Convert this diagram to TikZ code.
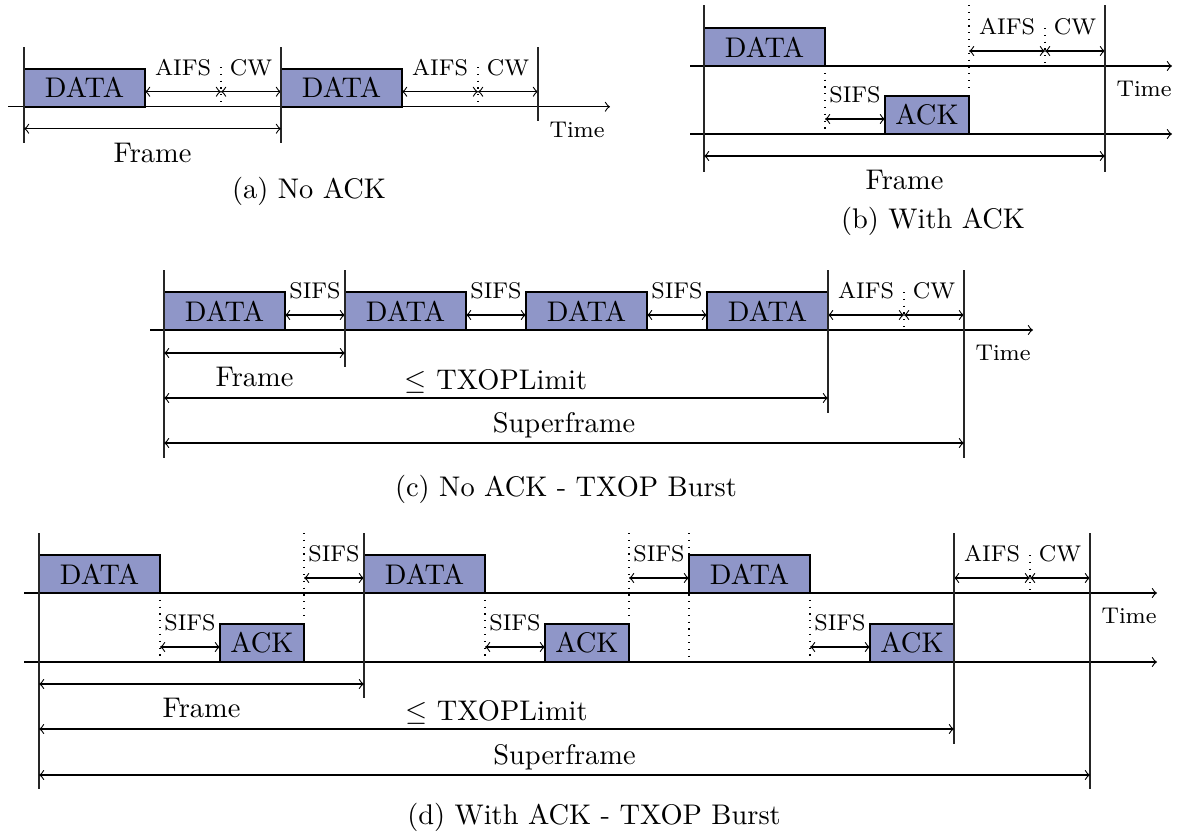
\documentclass[tikz,border=0pt]{standalone}
\usepackage{xcolor}
\usepackage{tikz}
\usetikzlibrary{arrows,positioning,calc}
\definecolor{boxfill}{RGB}{143,150,200}
\def\px{0.352pt}

\begin{document}
\begin{tikzpicture}[
    x=\px, y=-\px,
    box/.style={rectangle, draw, thick, fill=boxfill, inner sep=0pt, outer sep=0pt, minimum height=38*\px, anchor=south west},
    data/.style={box, minimum width=121*\px},
    ack/.style={box, minimum width=84*\px},
    axis/.style={->},
    tick/.style={thin, black!85},
    gap/.style={dotted},
    dim/.style={<->},
    lbl/.style={font=\footnotesize, inner sep=0pt, above=15*\px},
    span/.style={inner sep=0pt, above=4*\px},
    frm/.style={inner sep=0pt, below=14*\px},
    timelbl/.style={font=\footnotesize, inner sep=0pt, anchor=north west, xshift=11*\px, yshift=-15*\px}
]
\useasboundingbox (0,0) rectangle (1177,834);

% (a) No ACK
\node[data] (a1) at (24,106.7) {DATA};
\node[data] (a2) at ($(a1.south east)+(136,0)$) {DATA};
\draw[axis] (8,106.7) -- (610,106.7);
\foreach \n in {1,2} {
  \draw[dim] ($(a\n.south east)+(0,-15)$) -- node[lbl]{AIFS} ++(76,0) coordinate (am\n);
  \draw[dim] (am\n) -- node[lbl]{CW} ++(60,0) coordinate (an\n);
  \draw[gap] (am\n |- 0,67) -- (am\n |- a1.south);
}
\draw[tick] (a1.south west |- 0,47) -- (a1.south west |- 0,143);
\draw[tick] (a2.south west |- 0,47) -- (a2.south west |- 0,143);
\draw[tick] (an2 |- 0,47) -- (an2 |- 0,121);
\draw[dim] (a1.south west |- 0,128.7) -- node[frm]{Frame} (a2.south west |- 0,128.7);
\node[timelbl] (atime) at (an2 |- a1.south) {Time};
\node (capa) at (309,191) {(a) No ACK};

% (b) With ACK
\node[data] (b1) at (704,66) {DATA};
\node[ack] (b2) at ($(b1.south east |- 0,134)+(60,0)$) {ACK};
\draw[axis] (690,66) -- (1172,66);
\draw[axis] (690,134) -- (1172,134);
\draw[gap] (b1.south east) -- (b1.south east |- b2.south);
\draw[dim] ($(b2.south west)+(0,-15)$) -- node[lbl]{SIFS} ++(-60,0);
\draw[gap] (b2.south east |- 0,5) -- (b2.south east |- 0,90);
\coordinate (bq) at (b2.south east |- b1.south east);
\draw[dim] ($(bq)+(0,-15)$) -- node[lbl]{AIFS} ++(76,0) coordinate (bm);
\draw[dim] (bm) -- node[lbl]{CW} ++(60,0) coordinate (bn);
\draw[gap] (bm |- 0,28) -- (bm |- b1.south);
\draw[tick] (b1.south west |- 0,5) -- (b1.south west |- 0,172);
\draw[tick] (bn |- 0,5) -- (bn |- 0,172);
\draw[dim] (b1.south west |- 0,156) -- node[frm]{Frame} (bn |- 0,156);
\node[timelbl] (btime) at (bn |- b1.south) {Time};
\node (capb) at (933,221) {(b) With ACK};

% (c) No ACK - TXOP Burst
\node[data] (c1) at (164,330) {DATA};
\foreach \i/\j in {2/1,3/2,4/3} {
  \node[data, right=60*\px of c\j] (c\i) {DATA};
  \draw[dim] ($(c\j.south east)+(0,-15)$) -- node[lbl]{SIFS} ($(c\i.south west)+(0,-15)$);
}
\draw[axis] (150,330) -- (1033,330);
\draw[dim] ($(c4.south east)+(0,-15)$) -- node[lbl]{AIFS} ++(76,0) coordinate (cm);
\draw[dim] (cm) -- node[lbl]{CW} ++(60,0) coordinate (cn);
\draw[gap] (cm |- c4.north) -- (cm |- c4.south);
\draw[tick] (c1.south west |- 0,270) -- (c1.south west |- 0,458);
\draw[tick] (c2.south west |- 0,270) -- (c2.south west |- 0,367);
\draw[tick] (c4.south east |- 0,270) -- (c4.south east |- 0,413);
\draw[tick] (cn |- 0,270) -- (cn |- 0,458);
\draw[dim] (c1.south west |- 0,353) -- node[frm]{Frame} (c2.south west |- 0,353);
\draw[dim] (c1.south west |- 0,398) -- node[span]{$\leq$ TXOPLimit} (c4.south east |- 0,398);
\draw[dim] (c1.south west |- 0,443) -- node[span]{Superframe} (cn |- 0,443);
\node[timelbl] (ctime) at (cn |- c1.south) {Time};
\node (capc) at (566,489) {(c) No ACK - TXOP Burst};

% (d) With ACK - TXOP Burst
\node[data] (d1) at (39,593) {DATA};
\node[ack] (k1) at ($(d1.south east |- 0,662)+(60,0)$) {ACK};
\foreach \i/\j in {1/2,2/3} {
  \node[data] (d\j) at ($(k\i.south east |- d1.south)+(60,0)$) {DATA};
  \node[ack] (k\j) at ($(d\j.south east |- k1.south)+(60,0)$) {ACK};
  \draw[gap] (k\i.south east |- 0,533) -- (k\i.south east |- 0,620);
  \draw[dim] ($(d\j.south west)+(0,-15)$) -- node[lbl]{SIFS} ++(-60,0);
}
\foreach \i in {1,2,3} {
  \draw[gap] (d\i.south east) -- (d\i.south east |- k1.south);
  \draw[dim] ($(k\i.south west)+(0,-15)$) -- node[lbl]{SIFS} ++(-60,0);
}
\draw[axis] (24,593) -- (1157,593);
\draw[axis] (24,662) -- (1157,662);
\coordinate (dq) at (k3.south east |- d1.south east);
\draw[dim] ($(dq)+(0,-15)$) -- node[lbl]{AIFS} ++(76,0) coordinate (dm);
\draw[dim] (dm) -- node[lbl]{CW} ++(60,0) coordinate (dn);
\draw[gap] (dm |- d1.north) -- (dm |- d1.south);
\draw[gap] (d3.south west |- 0,533) -- (d3.south west |- 0,662);
\draw[tick] (d1.south west |- 0,533) -- (d1.south west |- 0,789);
\draw[tick] (d2.south west |- 0,533) -- (d2.south west |- 0,698);
\draw[tick] (dq |- 0,533) -- (dq |- 0,744);
\draw[tick] (dn |- 0,533) -- (dn |- 0,789);
\draw[dim] (d1.south west |- 0,684) -- node[frm]{Frame} (d2.south west |- 0,684);
\draw[dim] (d1.south west |- 0,729) -- node[span]{$\leq$ TXOPLimit} (dq |- 0,729);
\draw[dim] (d1.south west |- 0,775) -- node[span]{Superframe} (dn |- 0,775);
\node[timelbl] (dtime) at (dn |- d1.south) {Time};
\node (capd) at (594,817) {(d) With ACK - TXOP Burst};
\end{tikzpicture}
\end{document}
